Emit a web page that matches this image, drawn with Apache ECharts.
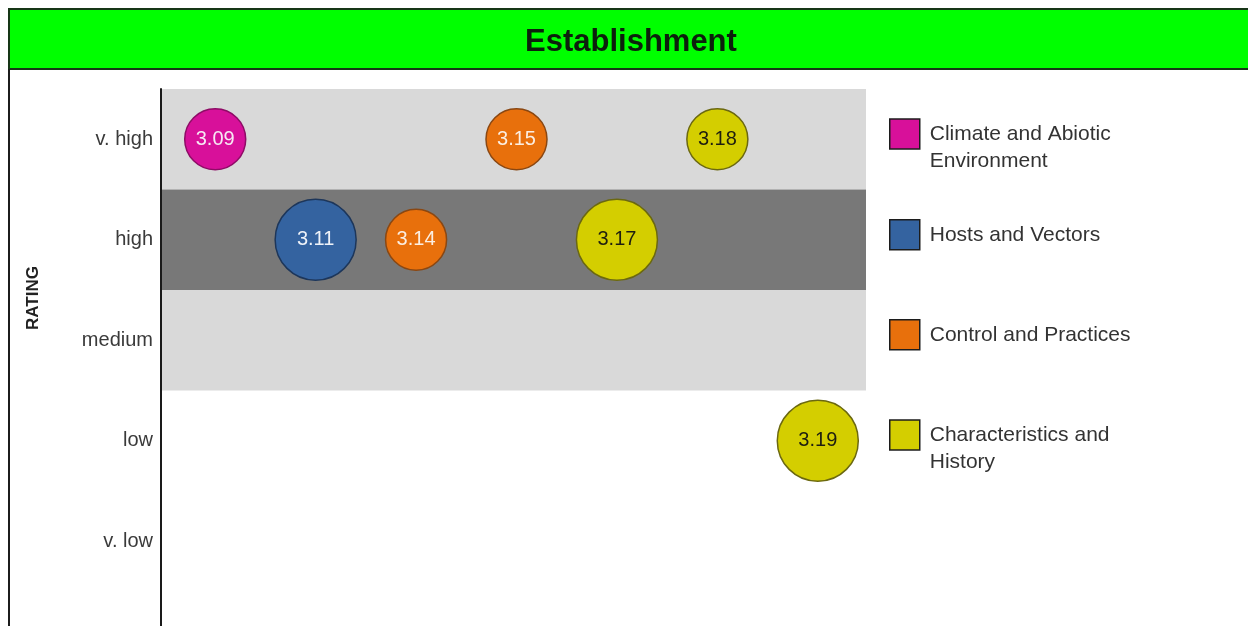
<!DOCTYPE html>
<html>
<head>
<meta charset="utf-8">
<title>Establishment</title>
<script src="https://cdn.jsdelivr.net/npm/echarts@6/dist/echarts.min.js"></script>
<style>
  html, body { margin: 0; padding: 0; background: #ffffff; }
  #chart { width: 1248px; height: 626px; }
</style>
</head>
<body>
<div id="chart"></div>
<script>
// Question ids along the horizontal axis, in order
const questionIds = ['3.09', '3.11', '3.14', '3.15', '3.17', '3.18', '3.19'];

// Rating categories, top to bottom (the last one is an empty spare row)
const ratingLabels = ['v. high', 'high', 'medium', 'low', 'v. low', ''];

// Group names shown in the legend
const groupNames = [
  'Climate and Abiotic Environment',
  'Hosts and Vectors',
  'Control and Practices',
  'Characteristics and History'
];

// Each point: [question id, rating, uncertainty level (1 = small bubble, 2 = large bubble)]
const climateData = [['3.09', 'v. high', 1]];
const hostsData = [['3.11', 'high', 2]];
const controlData = [['3.14', 'high', 1], ['3.15', 'v. high', 1]];
const characteristicsData = [['3.17', 'high', 2], ['3.18', 'v. high', 1], ['3.19', 'low', 2]];

const FONT = 'Liberation Sans, Arial, Helvetica, sans-serif';

const groupStyles = [
  { fill: '#d8109a', border: '#8e0c66', text: '#f6e9f3' },
  { fill: '#3463a0', border: '#1d365a', text: '#eef2f8' },
  { fill: '#e8700c', border: '#8a4712', text: '#fbeee2' },
  { fill: '#d4ce00', border: '#6b6810', text: '#1e1e10' }
];
const groupData = [climateData, hostsData, controlData, characteristicsData];

// Legend labels wrapped as laid out; a leading blank line keeps the
// first text line level with the swatch
const legendText = {
  'Climate and Abiotic Environment': '\nClimate and Abiotic\nEnvironment',
  'Hosts and Vectors': 'Hosts and Vectors',
  'Control and Practices': 'Control and Practices',
  'Characteristics and History': '\nCharacteristics and\nHistory'
};
// Swatch centre heights for the four legend entries
const legendCentres = [134, 234, 334, 435];
const LEGEND_LINE = 27;

const PLOT_TOP = 89;
const ROW_HEIGHT = 100.5;

const chart = echarts.init(document.getElementById('chart'), null, { renderer: 'canvas' });

const legends = groupNames.map((name, i) => {
  const lines = legendText[name].split('\n').length;
  const half = Math.max(15, lines * LEGEND_LINE / 2);
  return {
    data: [name],
    orient: 'vertical',
    left: 889,
    top: legendCentres[i] - half,
    padding: 0,
    itemWidth: 30,
    itemHeight: 30,
    icon: 'rect',
    selectedMode: false,
    itemStyle: { borderColor: '#1c1c1c', borderWidth: 1.5, opacity: 1 },
    formatter: n => legendText[n],
    textStyle: {
      fontFamily: FONT,
      fontSize: 21,
      color: '#333333',
      lineHeight: LEGEND_LINE,
      padding: [0, 0, 0, 5]
    }
  };
});

const series = groupNames.map((name, i) => ({
  name: name,
  type: 'scatter',
  xAxisIndex: 1,
  yAxisIndex: 1,
  data: groupData[i],
  symbol: 'circle',
  symbolSize: v => (v[2] === 2 ? 81 : 61),
  itemStyle: {
    color: groupStyles[i].fill,
    borderColor: groupStyles[i].border,
    borderWidth: 1.5,
    opacity: 1
  },
  label: {
    show: true,
    position: 'inside',
    formatter: p => p.value[0],
    fontFamily: FONT,
    fontSize: 20,
    color: groupStyles[i].text
  },
  emphasis: { disabled: true }
}));

const hiddenCategoryY = {
  type: 'category',
  data: ratingLabels,
  inverse: true,
  boundaryGap: true,
  show: false
};

chart.setOption({
  animation: false,
  backgroundColor: '#ffffff',
  title: {
    text: 'Establishment',
    left: 520,
    top: 22,
    textStyle: {
      fontFamily: FONT,
      fontSize: 31,
      fontWeight: 'bold',
      color: '#0c200c'
    }
  },
  graphic: [
    {
      type: 'rect',
      z: -10,
      shape: { x: 9, y: 9, width: 1300, height: 60 },
      style: { fill: '#00ff00', stroke: '#173617', lineWidth: 2 }
    },
    {
      type: 'line',
      z: -10,
      shape: { x1: 9, y1: 69, x2: 9, y2: 700 },
      style: { stroke: '#1c1c1c', lineWidth: 2 }
    },
    {
      type: 'text',
      x: 33,
      y: 298,
      rotation: Math.PI / 2,
      style: {
        text: 'RATING',
        font: 'bold 17px ' + FONT,
        fill: '#222222',
        align: 'center',
        verticalAlign: 'middle'
      }
    }
  ],
  legend: legends,
  grid: [
    // rating bands and the rating axis
    {
      left: 161,
      top: PLOT_TOP,
      width: 705,
      height: ROW_HEIGHT * ratingLabels.length,
      containLabel: false,
      outerBoundsMode: 'none'
    },
    // bubbles, one slot per question id
    {
      left: 165,
      top: PLOT_TOP,
      width: 703,
      height: ROW_HEIGHT * ratingLabels.length,
      containLabel: false,
      outerBoundsMode: 'none'
    }
  ],
  xAxis: [
    { gridIndex: 0, type: 'value', min: 0, max: 1, show: false },
    {
      gridIndex: 1,
      type: 'category',
      data: questionIds,
      boundaryGap: true,
      show: false
    }
  ],
  yAxis: [
    {
      gridIndex: 0,
      type: 'category',
      data: ratingLabels,
      inverse: true,
      boundaryGap: true,
      axisLine: { show: true, lineStyle: { color: '#1a1a1a', width: 2 } },
      axisTick: { show: false },
      axisLabel: {
        margin: 8,
        fontFamily: FONT,
        fontSize: 20,
        color: '#3a3a3a'
      },
      splitLine: { show: false },
      splitArea: {
        show: true,
        areaStyle: {
          color: ['#d9d9d9', '#787878', '#d9d9d9', 'rgba(255,255,255,0)', 'rgba(255,255,255,0)', 'rgba(255,255,255,0)']
        }
      }
    },
    Object.assign({ gridIndex: 1 }, hiddenCategoryY)
  ],
  series: series
});
</script>
</body>
</html>
